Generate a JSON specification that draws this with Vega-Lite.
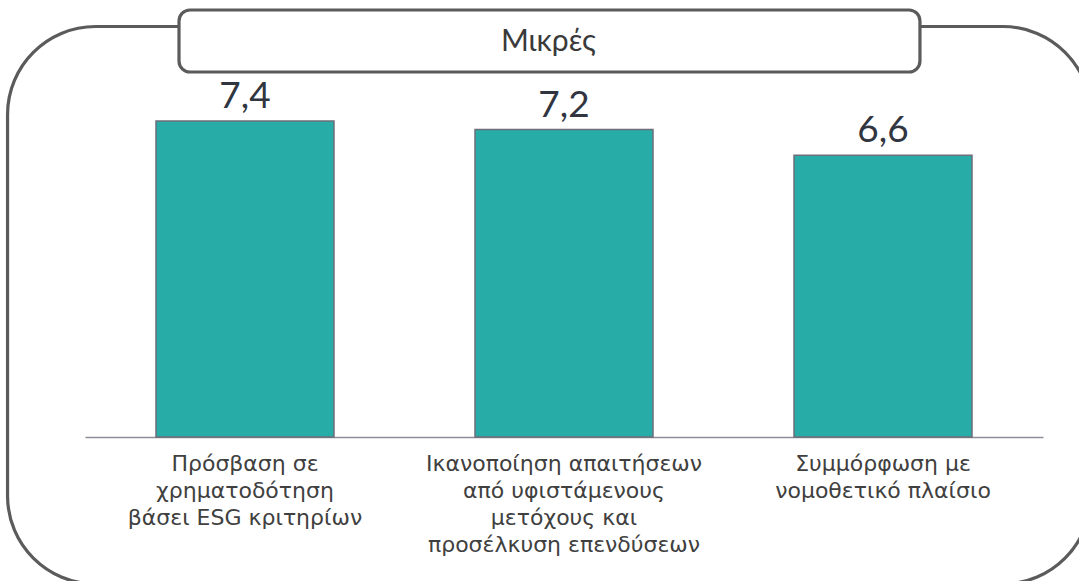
{
  "$schema": "https://vega.github.io/schema/vega-lite/v6.json",
  "width": 1079,
  "height": 581,
  "autosize": {"type": "none"},
  "padding": 0,
  "background": "#ffffff",
  "config": {
    "view": {"stroke": null},
    "locale": {"number": {"decimal": ",", "thousands": ".", "grouping": [3], "currency": ["", " €"]}}
  },
  "layer": [
    {
      "data": {"values": [{}]},
      "layer": [
        {
          "mark": {"type": "rect", "fill": null, "fillOpacity": 0, "stroke": "#5b5b5b", "strokeWidth": 3.2, "cornerRadius": 88},
          "encoding": {
            "x": {"datum": 0.7, "type": "quantitative", "scale": {"domain": [0, 100]}, "axis": null},
            "x2": {"datum": 101.1},
            "y": {"datum": 4.56, "type": "quantitative", "scale": {"domain": [0, 100], "reverse": true}, "axis": null},
            "y2": {"datum": 100.5}
          }
        },
        {
          "mark": {"type": "rect", "fill": "#ffffff", "stroke": "#5b5b5b", "strokeWidth": 3.2, "cornerRadius": 11},
          "encoding": {
            "x": {"datum": 16.59, "type": "quantitative", "scale": {"domain": [0, 100]}, "axis": null},
            "x2": {"datum": 85.26},
            "y": {"datum": 1.72, "type": "quantitative", "scale": {"domain": [0, 100], "reverse": true}, "axis": null},
            "y2": {"datum": 12.39}
          }
        },
        {
          "mark": {"type": "text", "text": "Μικρές", "font": "Lato", "fontSize": 30, "color": "#3a3a3a", "align": "center", "baseline": "middle", "dy": 1},
          "encoding": {
            "x": {"datum": 50.83, "type": "quantitative", "scale": {"domain": [0, 100]}, "axis": null},
            "y": {"datum": 7.06, "type": "quantitative", "scale": {"domain": [0, 100], "reverse": true}, "axis": null}
          }
        }
      ]
    },
    {
      "data": {
        "values": [
          {"category": "Πρόσβαση σε|χρηματοδότηση|βάσει ESG κριτηρίων", "value": 7.4},
          {"category": "Ικανοποίηση απαιτήσεων|από υφιστάμενους|μετόχους και|προσέλκυση επενδύσεων", "value": 7.2},
          {"category": "Συμμόρφωση με|νομοθετικό πλαίσιο", "value": 6.6}
        ]
      },
      "encoding": {
        "x": {
          "field": "category",
          "type": "nominal",
          "sort": null,
          "scale": {"range": [85, 1043], "paddingInner": 0.442, "paddingOuter": 0.2225},
          "axis": {
            "title": null,
            "orient": "bottom",
            "offset": -144,
            "ticks": false,
            "domainColor": "#8e8e9a",
            "domainWidth": 1.5,
            "labelAngle": 0,
            "labelFont": "DejaVu Sans",
            "labelFontSize": 22,
            "labelColor": "#404040",
            "labelLineHeight": 27,
            "labelPadding": 16,
            "labelLimit": 500,
            "labelOverlap": false,
            "labelExpr": "split(datum.label, '|')"
          }
        },
        "y": {
          "field": "value",
          "type": "quantitative",
          "scale": {"domain": [-3.372, 10.234], "nice": false, "zero": false},
          "axis": null
        }
      },
      "layer": [
        {
          "mark": {"type": "bar", "fill": "#27aca8", "stroke": "#6e6e7a", "strokeWidth": 1.5},
          "encoding": {"y2": {"datum": 0}}
        },
        {
          "mark": {"type": "text", "font": "Lato", "fontSize": 37, "color": "#30353f", "align": "center", "baseline": "alphabetic", "dy": -13},
          "encoding": {"text": {"field": "value", "type": "quantitative", "format": ".1f"}}
        }
      ]
    }
  ],
  "resolve": {"scale": {"x": "independent", "y": "independent"}}
}
